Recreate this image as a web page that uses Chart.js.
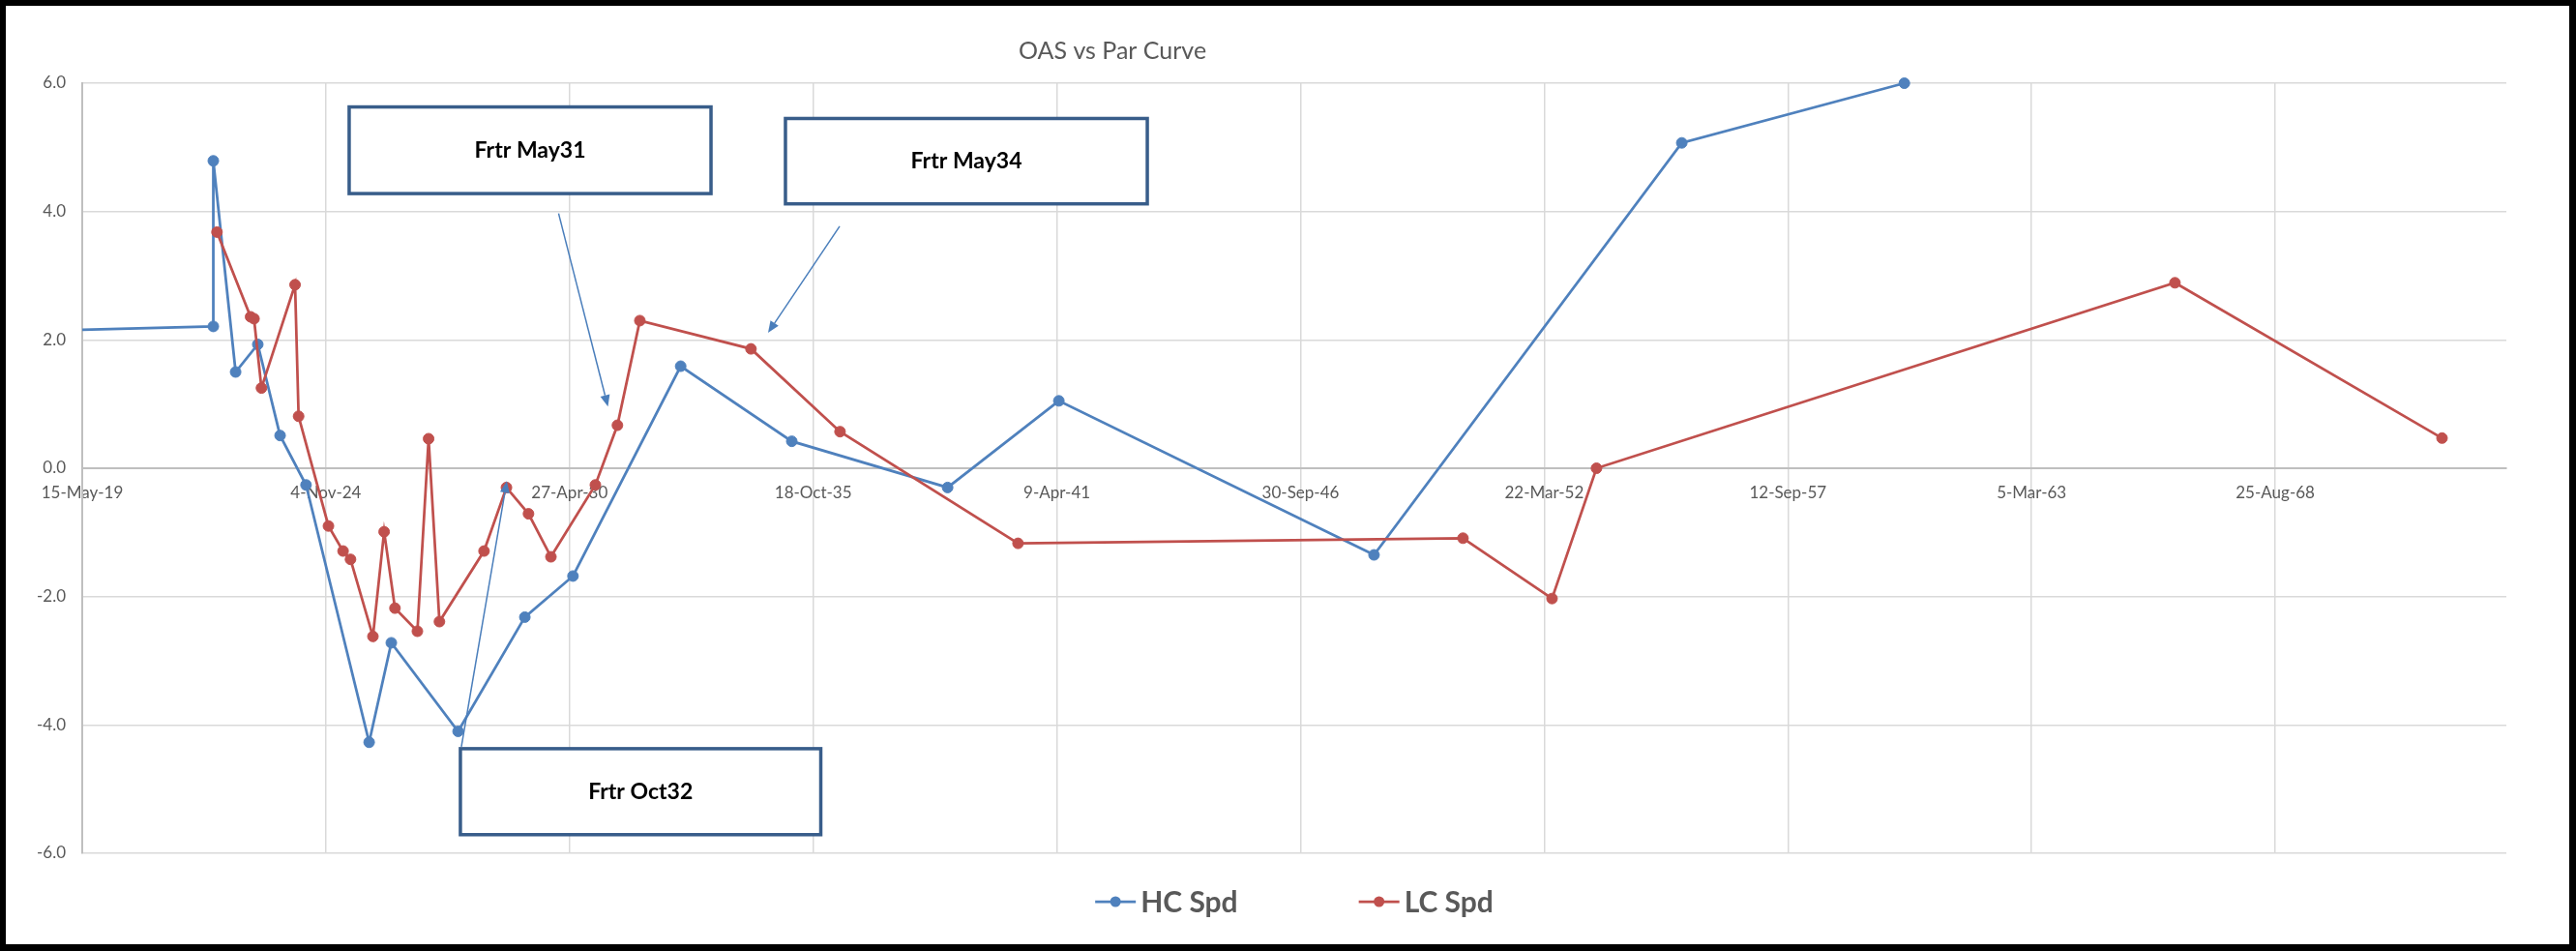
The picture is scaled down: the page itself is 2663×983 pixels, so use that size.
<!DOCTYPE html>
<html>
<head>
<meta charset="utf-8">
<title>OAS vs Par Curve</title>
<script src="https://cdn.jsdelivr.net/npm/chart.js@4.4.1/dist/chart.umd.min.js"></script>
<style>
    html, body { margin: 0; padding: 0; background: #000; }
    body { width: 2663px; height: 983px; overflow: hidden; position: relative; }
    #frame { position: absolute; left: 6px; top: 6px; width: 2650px; height: 970px; background: #fff; }
</style>
</head>
<body>
<div id="frame"><canvas id="oasChart" width="2650" height="970"></canvas></div>
<script>
// HC spread by maturity
const hcDates = ['2018-05-25', '2022-04-25', '2022-04-25', '2022-10-25', '2023-04-25', '2023-10-25',
    '2024-05-25', '2025-10-25', '2026-04-25', '2027-10-25', '2029-04-25', '2030-05-25',
    '2032-10-25', '2035-04-25', '2038-10-25', '2041-04-25', '2048-05-25', '2055-04-25', '2060-04-25'];
const hcSpd = [2.14, 2.21, 4.79, 1.50, 1.93, 0.51,
    -0.26, -4.27, -2.72, -4.10, -2.32, -1.68,
    1.59, 0.42, -0.30, 1.05, -1.35, 5.07, 6.00];

// LC spread by maturity
const lcDates = ['2022-05-25', '2023-02-25', '2023-03-25', '2023-05-25', '2024-02-25', '2024-03-25',
    '2024-11-25', '2025-03-25', '2025-05-25', '2025-11-25', '2026-02-25', '2026-05-25',
    '2026-11-25', '2027-02-25', '2027-05-25', '2028-05-25', '2028-11-25', '2029-05-25',
    '2029-11-25', '2030-11-25', '2031-05-25', '2031-11-25', '2034-05-25', '2036-05-25',
    '2040-05-25', '2050-05-25', '2052-05-25', '2053-05-25', '2066-05-25', '2072-05-25'];
const lcSpd = [3.68, 2.36, 2.33, 1.25, 2.86, 0.81,
    -0.90, -1.29, -1.42, -2.62, -0.99, -2.18,
    -2.54, 0.46, -2.39, -1.29, -0.30, -0.71,
    -1.38, -0.26, 0.67, 2.30, 1.86, 0.57,
    -1.17, -1.09, -2.03, 0.00, 2.89, 0.47];

const xTickLabels = ['15-May-19', '4-Nov-24', '27-Apr-30', '18-Oct-35', '9-Apr-41',
    '30-Sep-46', '22-Mar-52', '12-Sep-57', '5-Mar-63', '25-Aug-68'];
const xRange = ['2019-05-15', '2073-11-04'];
const yRange = [-6, 6];
const yStep = 2;

// text boxes with arrows (positions in data units)
const callouts = [
    { text: 'Frtr May31', box: ['2025-05-14', 5.63, '2033-07-01', 4.28], arrow: ['2030-01-27', 3.97, '2031-03-08', 0.96] },
    { text: 'Frtr May34', box: ['2035-03-04', 5.45, '2043-04-21', 4.12], arrow: ['2036-05-22', 3.77, '2034-10-12', 2.11] },
    { text: 'Frtr Oct32', box: ['2027-11-13', -4.37, '2035-12-19', -5.71], arrow: ['2027-11-21', -4.34, '2028-11-28', -0.20] }
];

const MONTHS = ['Jan', 'Feb', 'Mar', 'Apr', 'May', 'Jun', 'Jul', 'Aug', 'Sep', 'Oct', 'Nov', 'Dec'];
const FONT = 'Lato, "Open Sans", sans-serif';
const GREY_TEXT = '#595959';

function toDay(iso) {
    const [y, m, d] = iso.split('-').map(Number);
    return Date.UTC(y, m - 1, d) / 86400000;
}

function labelToDay(lbl) {
    const [d, mon, yy] = lbl.split('-');
    return Date.UTC(2000 + Number(yy), MONTHS.indexOf(mon), Number(d)) / 86400000;
}

const tickDays = xTickLabels.map(labelToDay);

function points(dates, values) {
    return dates.map((d, i) => ({ x: toDay(d), y: values[i] }));
}

function series(label, dates, values, color, order) {
    return {
        label: label,
        data: points(dates, values),
        showLine: true,
        borderColor: color,
        backgroundColor: color,
        borderWidth: 2.75,
        pointRadius: 5.5,
        pointHoverRadius: 5.5,
        pointBorderWidth: 1,
        pointBorderColor: color,
        pointBackgroundColor: color,
        order: order,
        clip: { left: 0, top: 10, right: 10, bottom: 10 }
    };
}

// title, legend and the text boxes are drawn here
const decor = {
    id: 'decor',
    afterDatasetsDraw(chart) {
        const ctx = chart.ctx;
        const xs = chart.scales.x, ys = chart.scales.y;
        const px = d => xs.getPixelForValue(toDay(d));
        const py = v => ys.getPixelForValue(v);
        ctx.save();
        callouts.forEach(c => {
            const [bx1, by1, bx2, by2] = c.box;
            const l = px(bx1), t = py(by1), r = px(bx2), b = py(by2);
            ctx.fillStyle = '#fff';
            ctx.fillRect(l, t, r - l, b - t);
            ctx.strokeStyle = '#385d8a';
            ctx.lineWidth = 3.5;
            ctx.strokeRect(l, t, r - l, b - t);
            ctx.fillStyle = '#000';
            ctx.font = 'bold 23px ' + FONT;
            ctx.textAlign = 'center';
            ctx.textBaseline = 'middle';
            ctx.fillText(c.text, (l + r) / 2, (t + b) / 2);

            const [ax1, ay1, ax2, ay2] = c.arrow;
            const x1 = px(ax1), y1 = py(ay1), x2 = px(ax2), y2 = py(ay2);
            const ang = Math.atan2(y2 - y1, x2 - x1);
            const headLen = 12, headW = 5;
            const bxp = x2 - headLen * Math.cos(ang), byp = y2 - headLen * Math.sin(ang);
            ctx.strokeStyle = '#4a7ebb';
            ctx.fillStyle = '#4a7ebb';
            ctx.lineWidth = 1.5;
            ctx.beginPath();
            ctx.moveTo(x1, y1);
            ctx.lineTo(bxp, byp);
            ctx.stroke();
            ctx.beginPath();
            ctx.moveTo(x2, y2);
            ctx.lineTo(bxp + headW * Math.sin(ang), byp - headW * Math.cos(ang));
            ctx.lineTo(bxp - headW * Math.sin(ang), byp + headW * Math.cos(ang));
            ctx.closePath();
            ctx.fill();
        });
        ctx.restore();
    },
    afterDraw(chart) {
        const ctx = chart.ctx;
        const area = chart.chartArea;
        ctx.save();

        // title sits left of centre, as in the original
        ctx.fillStyle = GREY_TEXT;
        ctx.font = '25px ' + FONT;
        ctx.textAlign = 'center';
        ctx.textBaseline = 'middle';
        ctx.fillText('OAS vs Par Curve', area.left + area.width * 0.425, area.top - 33);

        // legend
        const symW = 42, gap = 5, itemGap = 125;
        ctx.font = 'bold 30px ' + FONT;
        const items = chart.data.datasets.map(ds => ({ ds: ds, w: symW + gap + ctx.measureText(ds.label).width }));
        const total = items.reduce((s, it) => s + it.w, 0) + itemGap * (items.length - 1);
        let x = (area.left + area.right) / 2 - total / 2;
        const y = area.bottom + 50;
        items.forEach(it => {
            const col = it.ds.borderColor;
            ctx.strokeStyle = col;
            ctx.fillStyle = col;
            ctx.lineWidth = 2.75;
            ctx.beginPath();
            ctx.moveTo(x, y);
            ctx.lineTo(x + symW, y);
            ctx.stroke();
            ctx.beginPath();
            ctx.arc(x + symW / 2, y, 5.5, 0, Math.PI * 2);
            ctx.fill();
            ctx.fillStyle = GREY_TEXT;
            ctx.textAlign = 'left';
            ctx.textBaseline = 'middle';
            ctx.fillText(it.ds.label, x + symW + gap, y + 1);
            x += it.w + itemGap;
        });
        ctx.restore();
    }
};

document.addEventListener('DOMContentLoaded', function() {
    new Chart(document.getElementById('oasChart'), {
        type: 'scatter',
        data: {
            datasets: [
                series('HC Spd', hcDates, hcSpd, '#4f81bd', 1),
                series('LC Spd', lcDates, lcSpd, '#c0504d', 0)
            ]
        },
        options: {
            responsive: false,
            animation: false,
            events: [],
            layout: { padding: { top: 80, right: 65, bottom: 94, left: 0 } },
            plugins: {
                legend: { display: false },
                title: { display: false },
                tooltip: { enabled: false }
            },
            scales: {
                x: {
                    type: 'linear',
                    position: { y: 0 },
                    min: toDay(xRange[0]),
                    max: toDay(xRange[1]),
                    afterBuildTicks: scale => {
                        scale.ticks = tickDays.map(v => ({ value: v }));
                    },
                    ticks: {
                        callback: (v, i) => xTickLabels[i],
                        font: { family: FONT, size: 17 },
                        color: GREY_TEXT,
                        padding: 15,
                        maxRotation: 0,
                        autoSkip: false
                    },
                    grid: { color: '#d9d9d9', lineWidth: 1.5, drawTicks: false },
                    border: { color: '#bfbfbf', width: 2 }
                },
                y: {
                    min: yRange[0],
                    max: yRange[1],
                    afterFit: scale => { scale.width = 79; },
                    ticks: {
                        stepSize: yStep,
                        callback: v => v.toFixed(1),
                        font: { family: FONT, size: 17 },
                        color: GREY_TEXT,
                        padding: 17
                    },
                    grid: {
                        color: c => (c.tick && c.tick.value === 0) ? '#bfbfbf' : '#d9d9d9',
                        lineWidth: c => (c.tick && c.tick.value === 0) ? 2 : 1.5,
                        drawTicks: false
                    },
                    border: { color: '#bfbfbf', width: 2 }
                }
            }
        },
        plugins: [decor]
    });
});
</script>
</body>
</html>
